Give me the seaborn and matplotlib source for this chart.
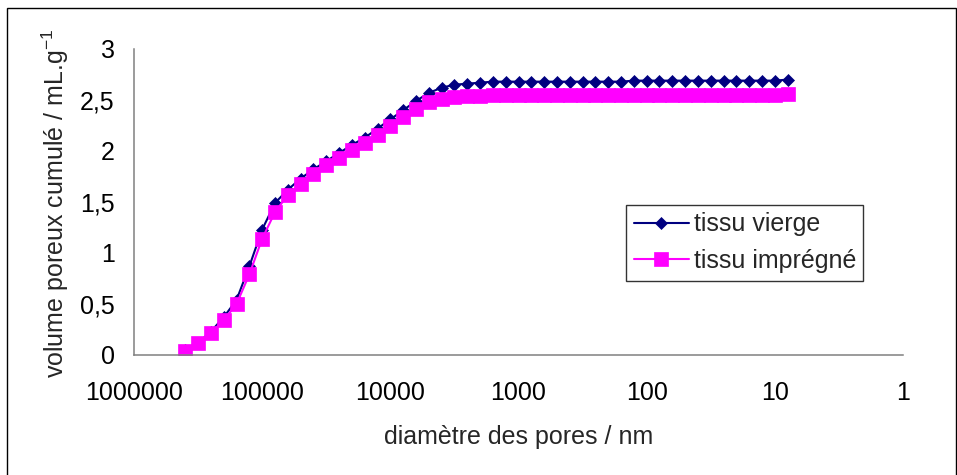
import numpy as np
import pandas as pd
import seaborn as sns
import matplotlib.pyplot as plt
from matplotlib.patches import Rectangle
from matplotlib.ticker import FixedLocator, FixedFormatter, NullLocator

# pore diameters (nm)
diametre = [398107, 316228, 251189, 199526, 158489, 125893, 100000, 79433,
            63096, 50119, 39811, 31623, 25119, 19953, 15849, 12589,
            10000, 7943, 6310, 5012, 3981, 3162, 2512, 1995,
            1585, 1259, 1000, 794.3, 631.0, 501.2, 398.1, 316.2,
            251.2, 199.5, 158.5, 125.9, 100, 79.43, 63.10, 50.12,
            39.81, 31.62, 25.12, 19.95, 15.85, 12.59, 10, 7.943]

tissu_vierge = [0.05, 0.12, 0.23, 0.37, 0.54, 0.87, 1.23, 1.49,
                1.62, 1.73, 1.82, 1.90, 1.98, 2.06, 2.13, 2.22,
                2.31, 2.40, 2.49, 2.57, 2.62, 2.65, 2.66, 2.67,
                2.68, 2.68, 2.68, 2.68, 2.68, 2.68, 2.68, 2.68,
                2.68, 2.68, 2.68, 2.69, 2.69, 2.69, 2.69, 2.69,
                2.69, 2.69, 2.69, 2.69, 2.69, 2.69, 2.69, 2.70]

tissu_impregne = [0.04, 0.12, 0.22, 0.34, 0.50, 0.79, 1.14, 1.40,
                  1.57, 1.68, 1.77, 1.86, 1.93, 2.01, 2.08, 2.16,
                  2.25, 2.33, 2.41, 2.48, 2.51, 2.53, 2.54, 2.54,
                  2.55, 2.55, 2.55, 2.55, 2.55, 2.55, 2.55, 2.55,
                  2.55, 2.55, 2.55, 2.55, 2.55, 2.55, 2.55, 2.55,
                  2.55, 2.55, 2.55, 2.55, 2.55, 2.55, 2.55, 2.56]

x_ticks = [1000000, 100000, 10000, 1000, 100, 10, 1]
x_labels = ["1000000", "100000", "10000", "1000", "100", "10", "1"]
y_ticks = [0, 0.5, 1, 1.5, 2, 2.5, 3]
y_labels = ["0", "0,5", "1", "1,5", "2", "2,5", "3"]

sns.set_style("white")
plt.rcParams['font.family'] = ['Liberation Sans', 'DejaVu Sans']
plt.rcParams['mathtext.fontset'] = 'custom'
plt.rcParams['mathtext.rm'] = 'Liberation Sans'
plt.rcParams['mathtext.it'] = 'Liberation Sans'

FS = 18
W, H = 957, 475
fig = plt.figure(figsize=(W / 100, H / 100), dpi=100)
fig.patch.set_facecolor('white')

# outer chart frame
fig.patches.append(Rectangle((7.5 / W, -0.05), (955.5 - 7.5) / W, 1.05 - 7.5 / H,
                             transform=fig.transFigure, fill=False,
                             edgecolor='black', linewidth=1.0))

ax_l, ax_r, ax_t, ax_b = 134, 903, 49, 355
ax = fig.add_axes([ax_l / W, 1 - ax_b / H, (ax_r - ax_l) / W, (ax_b - ax_t) / H])

df = pd.DataFrame({'d': diametre, 'vierge': tissu_vierge, 'impregne': tissu_impregne})

sns.lineplot(data=df, x='d', y='vierge', ax=ax, color='#000080', linewidth=1.5,
             marker='D', markersize=6, markeredgecolor='#000080', markeredgewidth=0.5,
             label='tissu vierge')
sns.lineplot(data=df, x='d', y='impregne', ax=ax, color='#FF00FF', linewidth=1.5,
             marker='s', markersize=10.5, markeredgecolor='#FF00FF', markeredgewidth=0.5,
             label='tissu imprégné')

ax.set_xscale('log')
ax.set_xlim(1e6, 1)
ax.set_ylim(0, 3)

ax.xaxis.set_major_locator(FixedLocator(x_ticks))
ax.xaxis.set_major_formatter(FixedFormatter(x_labels))
ax.xaxis.set_minor_locator(NullLocator())
ax.yaxis.set_major_locator(FixedLocator(y_ticks))
ax.yaxis.set_major_formatter(FixedFormatter(y_labels))

for side in ['top', 'right']:
    ax.spines[side].set_visible(False)
for side in ['left', 'bottom']:
    ax.spines[side].set_color('#808080')
    ax.spines[side].set_linewidth(1.1)

ax.tick_params(axis='both', which='major', direction='out', length=5, width=1.1,
               color='#808080', labelsize=FS, labelcolor='black')
ax.tick_params(axis='y', pad=9)
ax.tick_params(axis='x', pad=14)

ax.set_xlabel('')
ax.set_ylabel('')
fig.text((ax_l + ax_r) / 2 / W, 1 - 437 / H, 'diamètre des pores / nm',
         ha='center', va='center', fontsize=FS)
fig.text(55 / W, 1 - 203 / H, 'volume poreux cumulé / mL.g$^{-1}$',
         ha='center', va='center', rotation=90, fontsize=FS)

leg = ax.legend(loc='upper left', bbox_to_anchor=(626 / W, 1 - 205 / H),
                bbox_transform=fig.transFigure, fontsize=FS, frameon=True,
                fancybox=False, shadow=False, handlelength=2.2, handletextpad=0.2,
                labelspacing=0.5, borderpad=0.3, borderaxespad=0)
leg.get_frame().set_edgecolor('black')
leg.get_frame().set_linewidth(1.0)

fig.savefig('out.png', dpi=100)
